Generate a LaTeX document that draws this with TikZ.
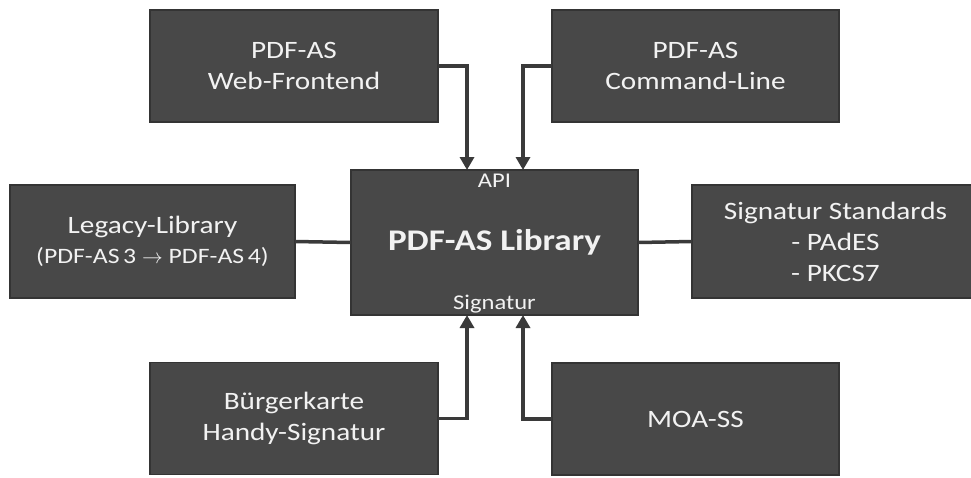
\documentclass[tikz,border=0pt]{standalone}
\usepackage{fontspec}
\setmainfont{Carlito}[FakeStretch=1.17]
\usetikzlibrary{positioning,calc,arrows.meta}

\definecolor{boxgray}{HTML}{484848}
\definecolor{edgegray}{HTML}{343434}
\definecolor{linegray}{HTML}{3A3A3A}
\definecolor{txtgray}{HTML}{F2F2F2}

\begin{document}
\begin{tikzpicture}[x=1pt,y=1pt]
    \tikzstyle{every node}=[inner sep=0,outer sep=0]
    \tikzstyle{block}=[rectangle,draw=edgegray,line width=1.5,fill=boxgray,text=txtgray,
        minimum width=288,minimum height=112,align=center,font=\fontsize{25}{31}\selectfont]
    \tikzstyle{tag}=[text=txtgray,font=\fontsize{21}{24}\selectfont]
    \tikzstyle{link}=[draw=linegray,line width=3.5]
    \tikzstyle{feed}=[link,-{Triangle[length=13,width=14]}]

    \useasboundingbox (0,0) rectangle (971,-477);

    % center
    \node[block,minimum width=287,minimum height=145,font=\fontsize{30}{34}\selectfont\bfseries]
        (lib) at (494.5,-242.5) {PDF-AS Library};
    \node[tag,anchor=north] (api) at ([yshift=-4]lib.north) {API};
    \node[tag,anchor=south] (sig) at ([yshift=2]lib.south) {Signatur};

    % frontends
    \node[block] (web) at (294,-66) {PDF-AS\\Web-Frontend};
    \node[block,minimum width=287] (cli) at (695.5,-66) {PDF-AS\\Command-Line};

    % sides
    \node[block,minimum width=285,minimum height=113] (legacy) at (152.5,-241.5)
        {Legacy-Library\\[-1]{\fontsize{22}{25}\selectfont(PDF-AS\,3 $\rightarrow$ PDF-AS\,4)}};
    \node[block,minimum width=287,minimum height=113] (std) at (835.5,-241.5)
        {Signatur Standards\\- PAdES\\- PKCS7};

    % signature providers
    \node[block] (bk) at (294,-418.5) {Bürgerkarte\\Handy-Signatur};
    \node[block,minimum width=287] (moa) at (695.5,-419) {MOA-SS};

    \coordinate (apiL) at ($(lib.north)+(-27.5,0)$);
    \coordinate (apiR) at ($(lib.north)+(28.5,0)$);
    \coordinate (sigL) at ($(lib.south)+(-27.5,0)$);
    \coordinate (sigR) at ($(lib.south)+(28.5,0)$);

    \draw[feed] (web.east) -| (apiL);
    \draw[feed] (cli.west) -| (apiR);
    \draw[feed] (bk.east) -| (sigL);
    \draw[feed] (moa.west) -| (sigR);

    \draw[link] (legacy.east) -- (lib.west);
    \draw[link] (lib.east) -- (std.west);
\end{tikzpicture}
\end{document}
